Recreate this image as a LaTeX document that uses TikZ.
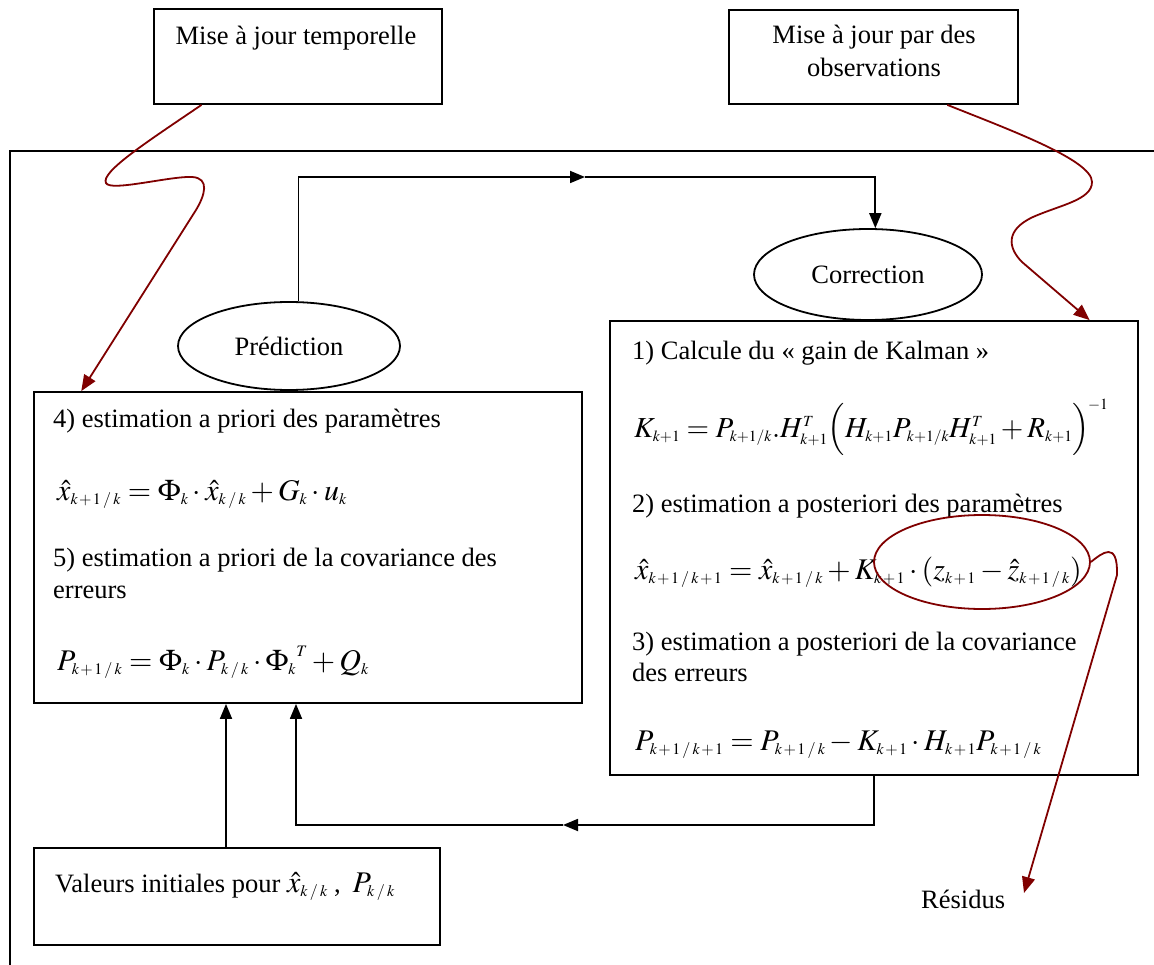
\documentclass[tikz,border=0pt]{standalone}
\usepackage{mathptmx}
\usepackage[no-math]{fontspec}
\setmainfont{Liberation Serif}
\usetikzlibrary{arrows.meta,shapes.geometric,calc}
\definecolor{dkred}{RGB}{128,0,0}
\DeclareMathSizes{26.5}{30}{16}{12}
\DeclareMathSizes{25.5}{29}{15.5}{11.5}
\newcommand\bigfs{\fontsize{26.5}{33}\selectfont}
\newcommand\kfs{\fontsize{25.5}{33}\selectfont}
\newcommand\kp{k\mkern1.5mu{+}\mkern1.5mu1}
\newcommand\sls{\mkern2.5mu/\mkern2.5mu}
\tikzset{
  box/.style={draw, line width=1.8pt, inner sep=0pt},
  ell/.style={draw, ellipse, line width=1.8pt, fill=white, inner sep=0pt, font=\bigfs},
  txt/.style={anchor=base west, inner sep=0pt, font=\bigfs},
  ctxt/.style={anchor=base, inner sep=0pt, font=\bigfs},
  frame/.style={line width=1.8pt},
  arr/.style={line width=1.8pt, -{Triangle[length=15pt,width=12pt]}},
  redarr/.style={draw=dkred, line width=1.8pt, -{Triangle[length=16pt,width=13pt]}},
  redell/.style={draw=dkred, ellipse, line width=1.8pt, inner sep=0pt}
}
\begin{document}
\begin{tikzpicture}[x=1pt,y=-1pt]
\useasboundingbox[fill=white] (0,0) rectangle (1154,965);
% outer frame
\draw[frame] (1154,151) -- (10,151) -- (10,965);
% top boxes
\node[box, minimum width=288pt, minimum height=95pt] (t1) at (298,56.5) {};
\node[ctxt] (t1a) at (296,45) {Mise à jour temporelle};
\node[box, minimum width=289pt, minimum height=94pt] (t2) at (873.5,57) {};
\node[ctxt] (t2a) at (874,44) {Mise à jour par des};
\node[ctxt] (t2b) at (874,77) {observations};
% main boxes
\node[box, minimum width=548pt, minimum height=311pt] (lbox) at (308,547.5) {};
\node[box, minimum width=528pt, minimum height=454pt] (rbox) at (874,548) {};
\node[box, minimum width=406pt, minimum height=97pt] (vbox) at (237,896.5) {};
% ellipses
\node[ell, minimum width=222pt, minimum height=88pt] (pred) at (289,346) {Prédiction};
\node[ell, minimum width=228pt, minimum height=91pt] (corr) at (868,274.5) {Correction};
% left box text
\node[txt] (l1) at (53,428) {4) estimation a priori des paramètres};
\node[txt] (l2) at (57,500) {$\hat{x}_{\kp\sls k} = \Phi_k \cdot \hat{x}_{k\sls k} + G_k \cdot u_k$};
\node[txt] (l3) at (53,566) {5) estimation a priori de la covariance des};
\node[txt] (l4) at (53,598) {erreurs};
\node[txt] (l5) at (57,670) {$P_{\kp\sls k} = \Phi_k \cdot P_{k\sls k} \cdot {\Phi_k}^{T} + Q_k$};
% right box text
\node[txt] (r1) at (632,360) {1) Calcule du « gain de Kalman »};
\node[txt, font=\kfs] (r2) at (634,437) {$K_{k+1} = P_{k+1/k}.H_{k+1}^{T}\Bigl(H_{k+1}P_{k+1/k}H_{k+1}^{T}+R_{k+1}\Bigr)^{\!-1}$};
\node[txt] (r3) at (632,512) {2) estimation a posteriori des paramètres};
\node[txt] (r4) at (635,579) {$\hat{x}_{\kp\sls\kp} = \hat{x}_{\kp\sls k} + K_{\kp}\cdot(z_{\kp}-\hat{z}_{\kp\sls k})$};
\node[txt] (r5) at (632,650) {3) estimation a posteriori de la covariance};
\node[txt] (r6) at (632,681) {des erreurs};
\node[txt] (r7) at (635,750) {$P_{\kp\sls\kp} = P_{\kp\sls k} - K_{\kp}\cdot H_{\kp}P_{\kp\sls k}$};
% initial values
\node[txt] (v1) at (55,892) {Valeurs initiales pour $\hat{x}_{k\sls k}$\hspace{6pt},\hspace{12pt}$P_{k\sls k}$};
\node[txt] (res) at (921,908) {Résidus};
% red ellipse
\node[redell, minimum width=216pt, minimum height=94pt] (circ) at (982,562) {};
% black connectors
\coordinate (m1) at (585,177);
\draw[arr] (pred.78) |- (m1);
\draw[arr] (m1) -| (corr.81);
\coordinate (m2) at (563,825);
\coordinate (c2) at (296,825);
\draw[arr] (rbox.south) |- (m2);
\draw[arr] (m2) -- (c2) -- (c2 |- lbox.south);
\coordinate (c3) at (226,848);
\draw[arr] (c3 |- vbox.north) -- (c3 |- lbox.south);
% red connectors
\coordinate (s1) at ($(t1.south west)!0.167!(t1.south east)$);
\coordinate (e1) at ($(lbox.north west)!0.0876!(lbox.north east)$);
\draw[redarr] (s1) .. controls (150,140) and (100,172) .. (106,183) .. controls (110,192) and (170,176) .. (192,177) .. controls (210,178) and (205,195) .. (196,210) -- (e1);
\coordinate (s2) at ($(t2.south west)!0.754!(t2.south east)$);
\coordinate (e2) at ($(rbox.north west)!0.907!(rbox.north east)$);
\draw[redarr] (s2) .. controls (1010,130) and (1092,160) .. (1092,182) .. controls (1092,200) and (1060,205) .. (1033,217) .. controls (1005,230) and (1008,248) .. (1022,262) -- (e2);
\coordinate (restip) at (1024,893);
\draw[redarr] (circ.east) .. controls (1102,553) and (1118,540) .. (1117,575) -- (restip);
\end{tikzpicture}
\end{document}
